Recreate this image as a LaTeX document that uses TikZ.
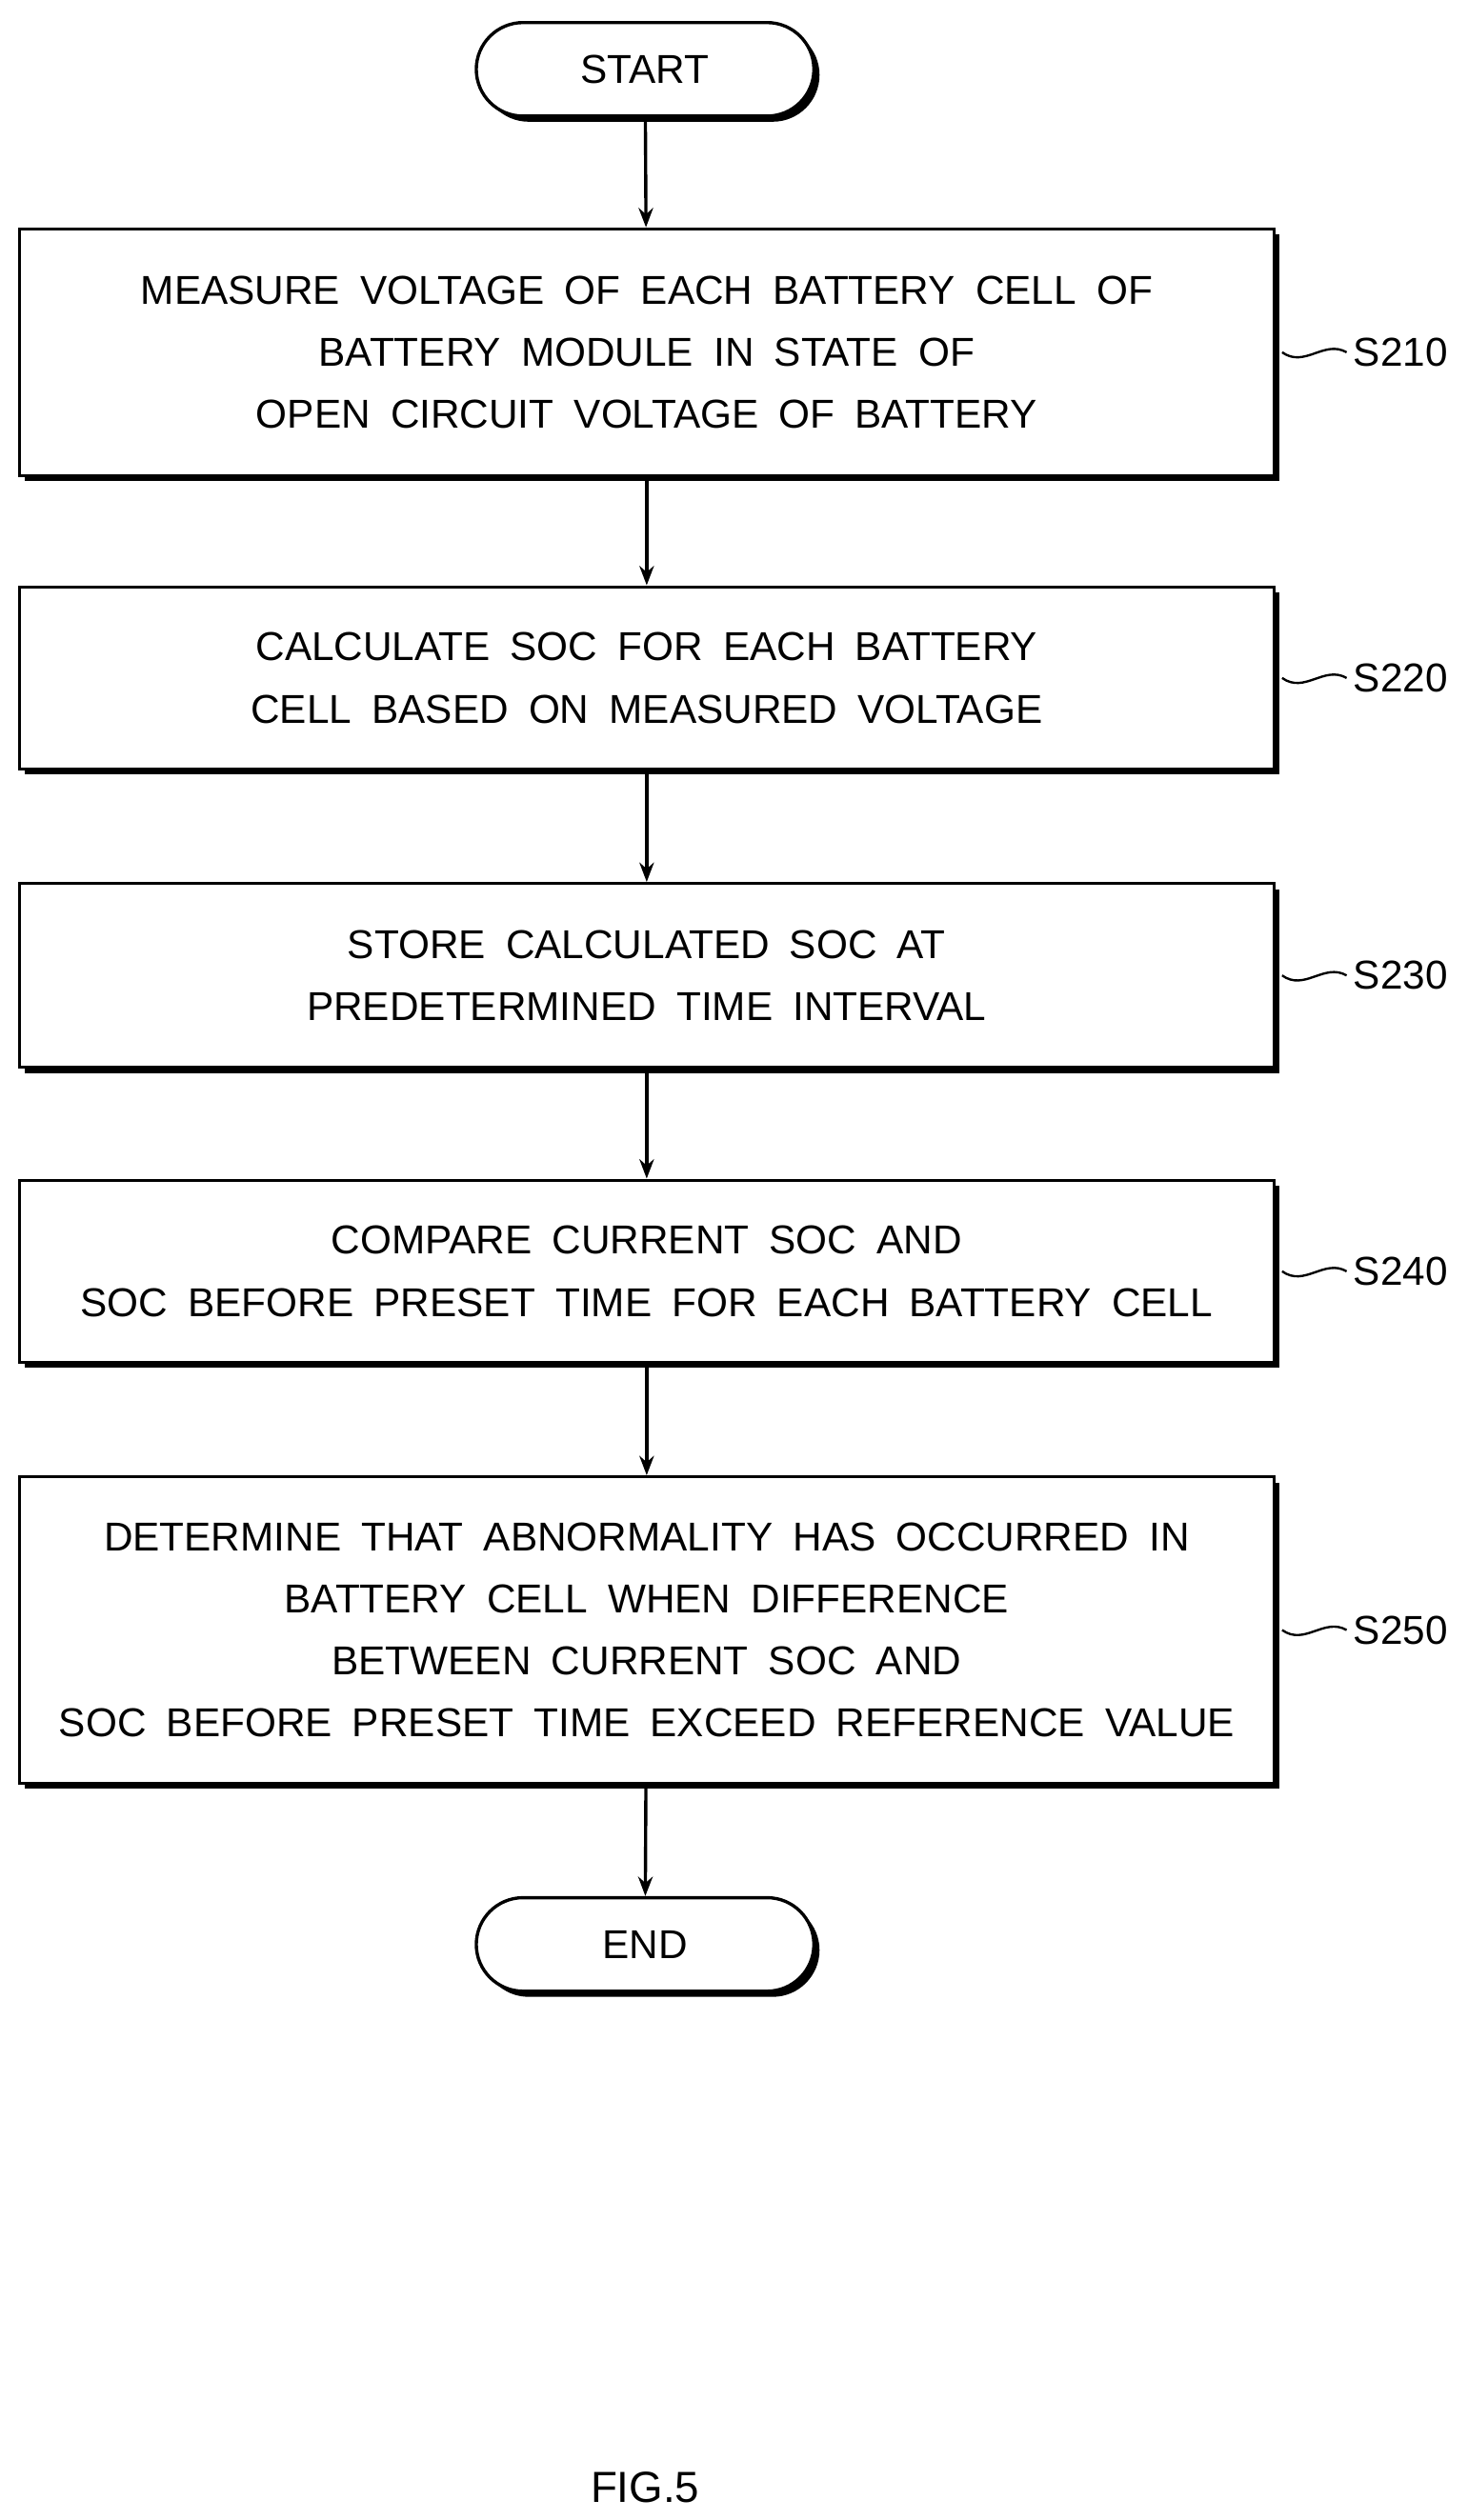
\documentclass[tikz,border=0pt]{standalone}
\usepackage{fontspec}
\setmainfont{Liberation Sans}[WordSpace=1.8]
\usetikzlibrary{positioning,shapes.misc,shadows,arrows.meta}
\begin{document}
\begin{tikzpicture}[x=1pt,y=-1pt,>={Stealth[length=12pt,width=9pt]},line width=2pt,
  shd/.style={drop shadow={shadow xshift=3.5pt,shadow yshift=-3.5pt,fill=black,opacity=1}},
  box/.style={draw,fill=white,shd,minimum width=778pt,align=center,font=\fontsize{25}{38.5}\selectfont,inner sep=0pt},
  term/.style={draw,fill=white,shd,rounded rectangle,minimum width=216pt,minimum height=58pt,font=\fontsize{25}{30}\selectfont},
  lbl/.style={font=\fontsize{25}{30}\selectfont,anchor=west}]
\useasboundingbox (0,0) rectangle (910,1563);
\node[term] (start) at (400,43) {START};
\node[box,minimum height=153pt] (s210) at (401,218.5) {MEASURE VOLTAGE OF EACH BATTERY CELL OF\\BATTERY MODULE IN STATE OF\\OPEN CIRCUIT VOLTAGE OF BATTERY};
\node[box,minimum height=113pt] (s220) at (401,420.5) {CALCULATE SOC FOR EACH BATTERY\\CELL BASED ON MEASURED VOLTAGE};
\node[box,minimum height=114pt] (s230) at (401,605) {STORE CALCULATED SOC AT\\PREDETERMINED TIME INTERVAL};
\node[box,minimum height=113pt] (s240) at (401,788.5) {COMPARE CURRENT SOC AND\\SOC BEFORE PRESET TIME FOR EACH BATTERY CELL};
\node[box,minimum height=190pt] (s250) at (401,1011) {DETERMINE THAT ABNORMALITY HAS OCCURRED IN\\BATTERY CELL WHEN DIFFERENCE\\BETWEEN CURRENT SOC AND\\SOC BEFORE PRESET TIME EXCEED REFERENCE VALUE};
\node[term] (end) at (400,1206) {END};
\draw[->] (start) -- (s210);
\draw[->] (s210) -- (s220);
\draw[->] (s220) -- (s230);
\draw[->] (s230) -- (s240);
\draw[->] (s240) -- (s250);
\draw[->] (s250) -- (end);
% step labels
\foreach \n/\t in {s210/S210,s220/S220,s230/S230,s240/S240,s250/S250} {
  \node[lbl] (l\n) at ([xshift=44pt]\n.east) {\t};
  \draw[line width=1.4pt] ([xshift=4pt]\n.east) .. controls +(14pt,-10pt) and +(-14pt,8pt) .. (l\n.west);
}
\node[font=\fontsize{27}{30}\selectfont] (fig) at (400,1543) {FIG.5};
\end{tikzpicture}
\end{document}
